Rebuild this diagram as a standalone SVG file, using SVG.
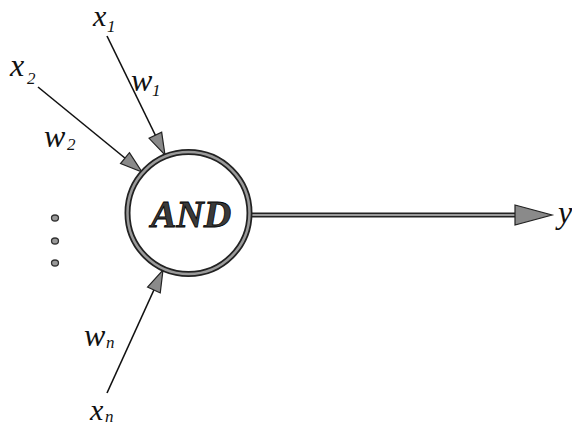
<svg xmlns="http://www.w3.org/2000/svg" width="572" height="427" viewBox="0 0 572 427">
<style>
.lbl{font-family:"Liberation Serif","Times New Roman",serif;font-style:italic;fill:#111}
.big{font-size:32px}
.edge{font-size:30px}
.sub{font-size:17px}
.in{stroke:#111;stroke-width:1.6;fill:none}
</style>
<defs>
<marker id="ah" markerUnits="userSpaceOnUse" markerWidth="24" markerHeight="16" refX="22" refY="7" orient="auto" overflow="visible">
<path d="M0,0 L22,7 L0,14 Z" fill="#8a8a8a" stroke="#222" stroke-width="1.2" stroke-linejoin="miter"/>
</marker>
</defs>
<rect width="572" height="427" fill="#fff"/>
<g id="connectors">
<line class="in" x1="107" y1="36" x2="165" y2="155" marker-end="url(#ah)"/>
<line class="in" x1="38" y1="87" x2="142" y2="172" marker-end="url(#ah)"/>
<line class="in" x1="107" y1="393" x2="163" y2="270" marker-end="url(#ah)"/>
<line x1="250" y1="215" x2="520" y2="215" stroke="#222" stroke-width="5"/>
<line x1="250" y1="215" x2="520" y2="215" stroke="#9a9a9a" stroke-width="2.2"/>
<path d="M515,205 L552,215 L515,225 Z" fill="#8a8a8a" stroke="#222" stroke-width="1.2"/>
</g>
<g id="and">
<circle cx="188.5" cy="213" r="61" fill="#fff" stroke="#222" stroke-width="6"/>
<circle cx="188.5" cy="213" r="61" fill="none" stroke="#9a9a9a" stroke-width="2.5"/>
<text x="191" y="227" text-anchor="middle" font-family="Liberation Serif,'Times New Roman',serif" font-style="italic" font-weight="bold" font-size="38" fill="#3a3a3a" stroke="#000" stroke-width="0.8">AND</text>
</g>
<g id="x1"><text class="lbl edge" x="93" y="26">x</text><text class="lbl sub" x="107" y="32">1</text></g>
<g id="x2"><text class="lbl big" x="10" y="76">x</text><text class="lbl sub" x="27" y="84">2</text></g>
<g id="w1"><text class="lbl big" x="131" y="91">w</text><text class="lbl sub" x="152" y="96">1</text></g>
<g id="w2"><text class="lbl big" x="44" y="147">w</text><text class="lbl sub" x="67" y="150">2</text></g>
<g id="wn"><text class="lbl big" x="84" y="346">w</text><text class="lbl sub" x="106" y="348">n</text></g>
<g id="xn"><text class="lbl edge" x="90" y="420">x</text><text class="lbl sub" x="105" y="422">n</text></g>
<g id="y"><text class="lbl big" x="558" y="223">y</text></g>
<g id="dots" fill="#999" stroke="#333" stroke-width="1.3">
<ellipse cx="55" cy="218" rx="3.5" ry="3"/>
<ellipse cx="55" cy="241" rx="3.5" ry="3"/>
<ellipse cx="55" cy="263" rx="3.5" ry="3"/>
</g>
</svg>
